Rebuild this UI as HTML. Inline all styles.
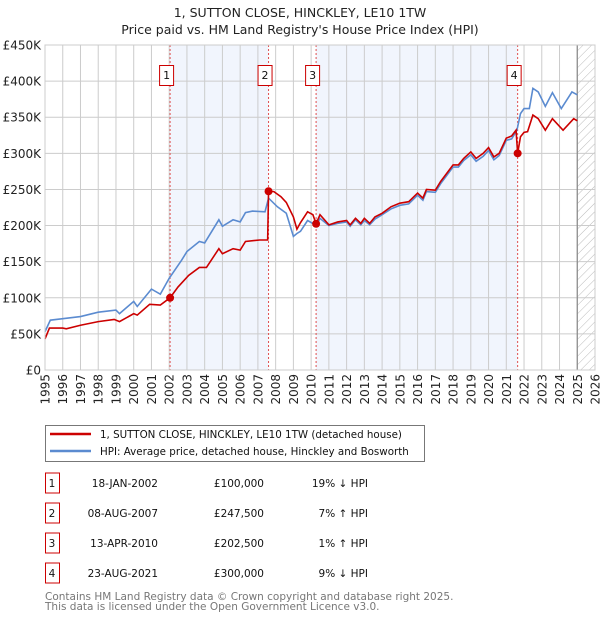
<!DOCTYPE html>
<html><head><meta charset="utf-8"><style>
body{margin:0;background:#fff;font-family:"Liberation Sans","DejaVu Sans",sans-serif;}
svg text{font-family:"DejaVu Sans","Liberation Sans",sans-serif;}
</style></head><body>
<svg id="c" width="600" height="620" xmlns="http://www.w3.org/2000/svg">
<defs><pattern id="hatch" width="6" height="6" patternUnits="userSpaceOnUse" patternTransform="rotate(45)"><line x1="0" y1="0" x2="0" y2="6" stroke="#bbb" stroke-width="1"/></pattern></defs>
<text x="300" y="17" text-anchor="middle" font-size="12.5" fill="#222">1, SUTTON CLOSE, HINCKLEY, LE10 1TW</text>
<text x="300" y="34" text-anchor="middle" font-size="12.5" fill="#222">Price paid vs. HM Land Registry's House Price Index (HPI)</text>
<g id="plot"></g>
<g>
<rect x="45.5" y="425.5" width="379" height="36" fill="#fff" stroke="#777"/>
<line x1="50" y1="434" x2="91" y2="434" stroke="#cc0000" stroke-width="2.5"/>
<text x="100" y="438" font-size="10.3" fill="#111">1, SUTTON CLOSE, HINCKLEY, LE10 1TW (detached house)</text>
<line x1="50" y1="451" x2="91" y2="451" stroke="#5b8bd0" stroke-width="2.5"/>
<text x="100" y="455" font-size="10.3" fill="#111">HPI: Average price, detached house, Hinckley and Bosworth</text>
</g>
<g id="table" font-size="10.5" fill="#111"></g>
<text x="45" y="600" font-size="10.5" fill="#777">Contains HM Land Registry data © Crown copyright and database right 2025.</text>
<text x="45" y="610" font-size="10.5" fill="#777">This data is licensed under the Open Government Licence v3.0.</text>
</svg>
<script>
const hpiYears=[1995.0,1995.3,1996.0,1997.0,1998.0,1999.0,1999.2,2000.0,2000.2,2001.0,2001.5,2002.0,2002.7,2003.0,2003.7,2004.0,2004.8,2005.0,2005.6,2006.0,2006.3,2006.7,2007.4,2007.6,2008.1,2008.6,2009.0,2009.2,2009.4,2009.8,2010.3,2010.5,2011,2011.5,2012,2012.2,2012.5,2012.8,2013,2013.3,2013.6,2014,2014.5,2015,2015.5,2016,2016.3,2016.5,2017,2017.3,2018,2018.3,2018.6,2019,2019.3,2019.7,2020,2020.3,2020.6,2021,2021.3,2021.6,2021.8,2022,2022.3,2022.5,2022.8,2023.2,2023.6,2024.1,2024.7,2025.0];
const hpiValues=[53,69,71,74,80,83,78,95,88,112,105,127,152,164,178,176,208,199,208,205,218,220,219,238,226,217,185,189,192,207,200,210,200,203,205,199,208,201,207,201,209,215,223,228,230,242,235,247,246,258,281,281,290,298,289,296,304,291,297,318,320,332,355,362,362,390,385,365,384,362,385,381];
const paidYears=[1995.0,1995.25,1996.0,1996.2,1997.0,1998.0,1998.9,1999.2,2000.0,2000.2,2000.9,2001.5,2002.05,2002.5,2003.1,2003.7,2004.1,2004.8,2005.0,2005.6,2006.0,2006.3,2007.1,2007.55,2007.6,2007.9,2008.3,2008.6,2009.0,2009.2,2009.4,2009.8,2010.1,2010.28,2010.5,2011,2011.5,2012,2012.2,2012.5,2012.8,2013,2013.3,2013.6,2014,2014.5,2015,2015.5,2016,2016.3,2016.5,2017,2017.3,2018,2018.3,2018.6,2019,2019.3,2019.7,2020,2020.3,2020.6,2021,2021.3,2021.55,2021.64,2021.8,2022,2022.2,2022.5,2022.8,2023.2,2023.6,2024.2,2024.8,2025.0];
const paidValues=[43,58,58,57,62,67,70,67,78,76,91,90,100,115,131,142,142,168,161,168,166,178,180,180,247.5,247,240,232,212,195,204,219,215,202.5,215,201,205,207,201,210,203,210,203,212,217,226,231,233,245,238,250,249,261,284,284,293,302,293,300,308,295,300,321,324,332,300,323,329,330,353,348,332,348,332,348,345];
const saleLabels=["1","2","3","4"];
const saleYears=[2002.05,2007.6,2010.28,2021.64];
const saleValues=[100,247.5,202.5,300];
const saleDates=["18-JAN-2002","08-AUG-2007","13-APR-2010","23-AUG-2021"];
const salePrices=["£100,000","£247,500","£202,500","£300,000"];
const saleHpi=["19% ↓ HPI","7% ↑ HPI","1% ↑ HPI","9% ↓ HPI"];
const yTicks=[0,50,100,150,200,250,300,350,400,450];
const yTickLabels=["£0","£50K","£100K","£150K","£200K","£250K","£300K","£350K","£400K","£450K"];
const xTicks=[1995,1996,1997,1998,1999,2000,2001,2002,2003,2004,2005,2006,2007,2008,2009,2010,2011,2012,2013,2014,2015,2016,2017,2018,2019,2020,2021,2022,2023,2024,2025,2026];

const L=45,R=595,T=45,B=370;
const xs=y=>L+(y-1995)/(2026-1995)*(R-L);
const ys=v=>B-v/450*(B-T);
const NS="http://www.w3.org/2000/svg";
const plot=document.getElementById('plot');
function mk(tag,attrs,parent){const e=document.createElementNS(NS,tag);for(const k in attrs)e.setAttribute(k,attrs[k]);(parent||plot).appendChild(e);return e;}

for(let i=0;i<saleYears.length;i+=2){
 const r=mk('rect',{x:xs(saleYears[i]),y:T,width:xs(saleYears[i+1])-xs(saleYears[i]),height:B-T,fill:'#f1f5fd'});
 
 
}
const h=mk('rect',{x:xs(2025),y:T,width:R-xs(2025),height:B-T,fill:'url(#hatch)'});


xTicks.forEach((t,i)=>{
 const g=mk('line',{x1:xs(t),x2:xs(t),y1:T,y2:B,stroke:'#cccccc','stroke-width':1});
 
 
 const tx=mk('text',{x:0,y:0,'font-size':12,fill:'#222','text-anchor':'end',transform:`translate(${xs(t)+4.5},374) rotate(-90)`});
 tx.textContent=t;
 
 
});
yTicks.forEach((t,i)=>{
 const g=mk('line',{x1:L,x2:R,y1:ys(t),y2:ys(t),stroke:'#cccccc','stroke-width':1});
 
 
 const tx=mk('text',{x:41,y:ys(t)+4.5,'font-size':12,fill:'#222','text-anchor':'end'});
 tx.textContent=yTickLabels[i];
 
 
});
const fl=mk('line',{x1:xs(2025),x2:xs(2025),y1:T,y2:B,stroke:'#888','stroke-width':1.2});


saleYears.forEach((y,i)=>{
 const l=mk('line',{x1:xs(y),x2:xs(y),y1:T,y2:B,stroke:'#e05050','stroke-width':1,'stroke-dasharray':'2,2'});
 
 
 const bx=mk('rect',{x:xs(y)-10.5,y:65.5,width:14,height:20,fill:'#fff',stroke:'#cc0000'});
 
 
 const t=mk('text',{x:xs(y)-3.5,y:79,'font-size':11,'text-anchor':'middle',fill:'#111'});
 t.textContent=saleLabels[i];
 
 
});
const hp=mk('polyline',{points:hpiYears.map((y,i)=>xs(y)+','+ys(hpiValues[i])).join(' '),fill:'none',stroke:'#5b8bd0','stroke-width':1.6});


const pp=mk('polyline',{points:paidYears.map((y,i)=>xs(y)+','+ys(paidValues[i])).join(' '),fill:'none',stroke:'#cc0000','stroke-width':1.6});


saleYears.forEach((y,i)=>{
 const c=mk('circle',{cx:xs(y),cy:ys(saleValues[i]),r:4,fill:'#cc0000'});
 
 
});
mk('rect',{x:L,y:T,width:R-L,height:B-T,fill:'none',stroke:'#cccccc'});
const tb=document.getElementById('table');
saleLabels.forEach((s,i)=>{
 const cy=483+i*30;
 const b=mk('rect',{x:45.5,y:cy-10,width:14,height:20,fill:'#fff',stroke:'#cc0000'},tb);
 
 
 const vals=[[s,52,'middle'],[saleDates[i],158,'end'],[salePrices[i],264,'end'],[saleHpi[i],368,'end']];
 vals.forEach(v=>{
  const t=mk('text',{x:v[1],y:cy+4,'text-anchor':v[2],'font-size':10.5,fill:'#111'},tb);
  t.textContent=v[0];
  
  
 });
});
</script>
</body></html>
